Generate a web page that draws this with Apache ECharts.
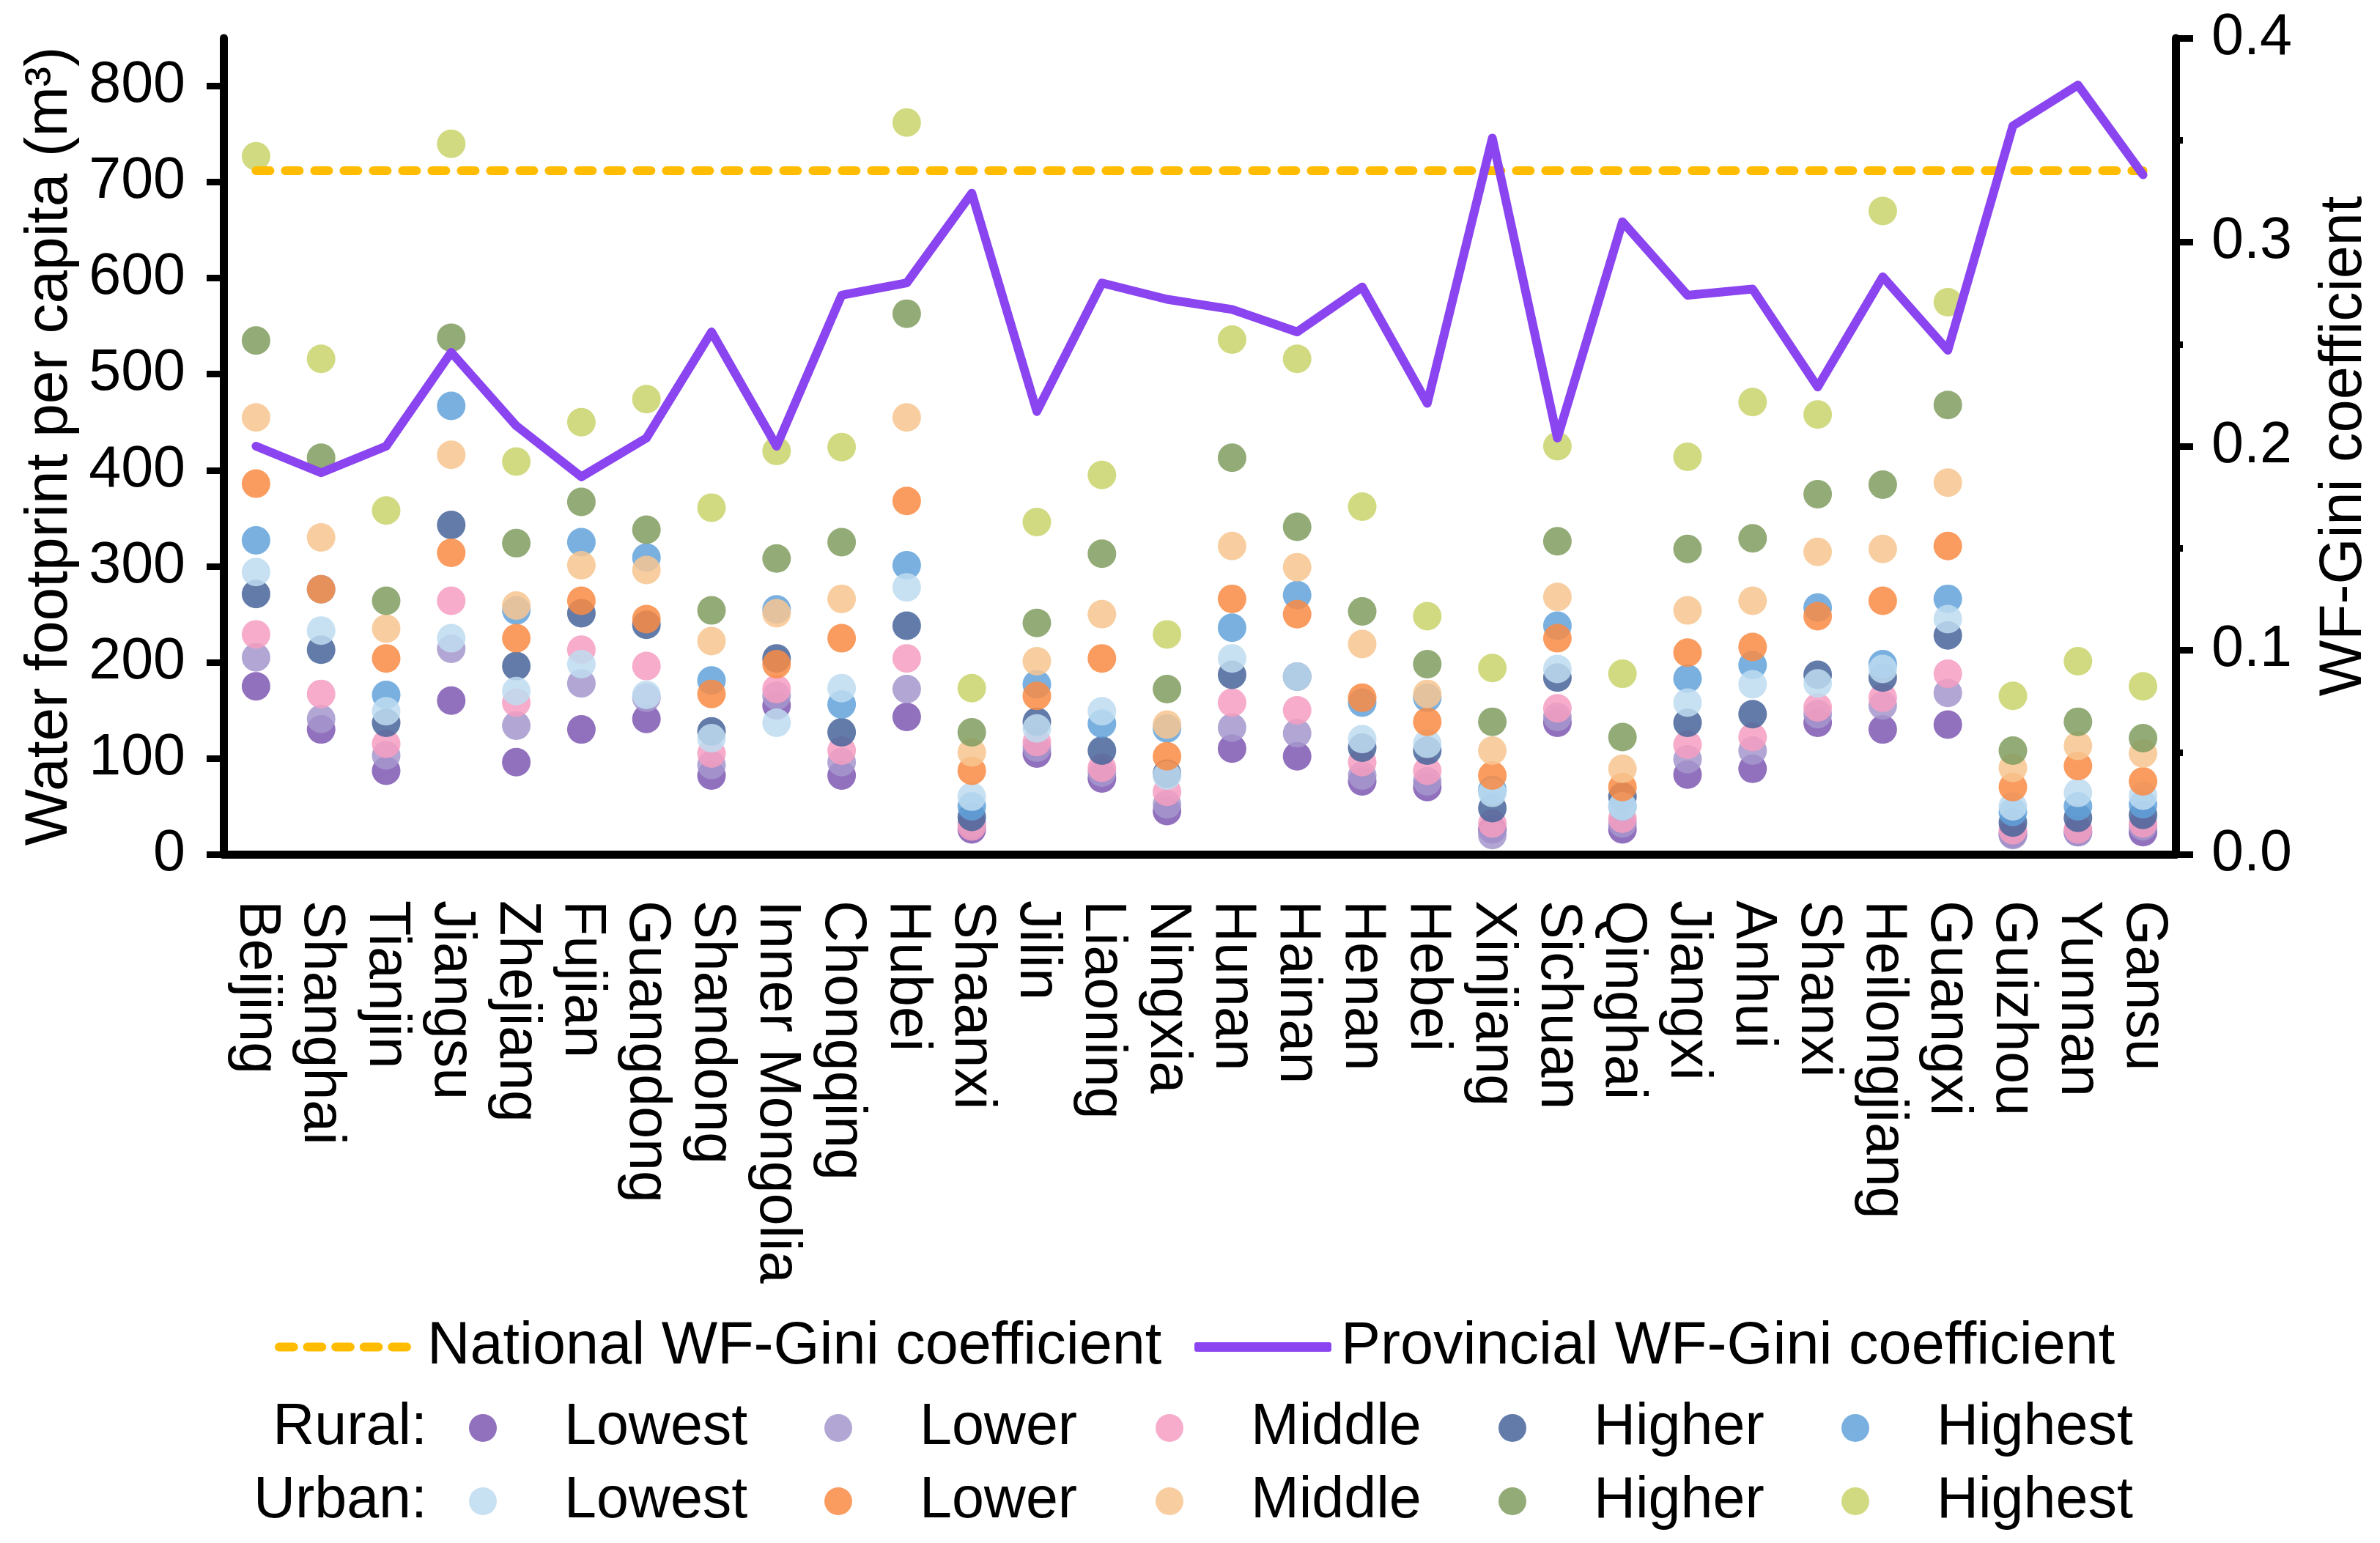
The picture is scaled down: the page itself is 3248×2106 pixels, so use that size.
<!DOCTYPE html>
<html><head><meta charset="utf-8">
<script src="https://cdn.jsdelivr.net/npm/echarts@6/dist/echarts.min.js"></script>
<style>html,body{margin:0;padding:0;background:#fff}#c{width:3248px;height:2106px}</style>
</head><body><div id="c"></div>
<script>
const provinces = ['Beijing','Shanghai','Tianjin','Jiangsu','Zhejiang','Fujian','Guangdong','Shandong','Inner Mongolia','Chongqing','Hubei','Shaanxi','Jilin','Liaoning','Ningxia','Hunan','Hainan','Henan','Hebei','Xinjiang','Sichuan','Qinghai','Jiangxi','Anhui','Shanxi','Heilongjiang','Guangxi','Guizhou','Yunnan','Gansu'];

const ruralLowest  = [175,130,87,160,96,130,141,82,155,82,143,26,105,79,45,110,102,76,70,26,137,26,83,89,137,130,135,21,23,23];
const ruralLower   = [205,141,103,214,134,178,163,93,165,96,172,32,111,85,52,132,126,82,76,20,143,32,99,108,146,155,168,20,23,29];
const ruralMiddle  = [229,167,115,264,158,213,196,105,172,108,204,29,117,90,65,158,150,96,87,32,152,37,114,122,153,163,188,25,26,32];
const ruralHigher  = [271,213,137,343,196,251,239,128,204,127,238,39,138,108,84,187,185,111,108,48,184,60,137,146,187,184,228,33,38,41];
const ruralHighest = [327,276,166,467,254,325,309,181,255,156,301,50,177,136,131,236,270,158,163,67,238,50,183,197,257,198,266,44,50,52];
const urbanLowest  = [294,233,149,225,170,198,166,121,137,173,278,60,131,149,82,204,185,120,115,64,193,50,158,177,178,193,245,50,64,61];
const urbanLower   = [386,276,204,314,225,264,245,167,198,225,368,87,165,204,102,266,250,163,138,82,225,70,210,216,248,264,321,70,92,76];
const urbanMiddle  = [455,330,235,416,259,301,296,222,251,266,455,106,201,250,135,321,299,219,167,108,268,89,254,264,315,318,387,90,113,105];
const urbanHigher  = [535,413,264,538,324,367,338,254,308,325,563,127,241,313,172,413,341,253,198,138,326,122,318,329,375,385,468,108,138,121];
const urbanHighest = [727,516,358,740,409,450,474,361,420,424,762,173,346,395,229,536,516,362,248,194,425,188,414,471,458,670,575,165,201,175];

const provincialGini = [0.200,0.187,0.200,0.246,0.210,0.185,0.204,0.256,0.200,0.274,0.280,0.324,0.217,0.280,0.272,0.267,0.256,0.278,0.221,0.351,0.204,0.310,0.274,0.277,0.229,0.283,0.247,0.357,0.377,0.333];
const nationalGini = [0.335,0.335,0.335,0.335,0.335,0.335,0.335,0.335,0.335,0.335,0.335,0.335,0.335,0.335,0.335,0.335,0.335,0.335,0.335,0.335,0.335,0.335,0.335,0.335,0.335,0.335,0.335,0.335,0.335,0.335];

const leftTicks = [0,100,200,300,400,500,600,700,800];
const groupLabels = ['Lowest','Lower','Middle','Higher','Highest'];

const FONT = '"Liberation Sans", Arial, sans-serif';
const FS = 79;

const scatterDefs = [
  ['Rural Lowest', ruralLowest, '#7E57B2'],
  ['Rural Lower', ruralLower, '#A497CC'],
  ['Rural Middle', ruralMiddle, '#F59DC1'],
  ['Rural Higher', ruralHigher, '#46649A'],
  ['Rural Highest', ruralHighest, '#62A2DA'],
  ['Urban Lowest', urbanLowest, '#BEDCF0'],
  ['Urban Lower', urbanLower, '#F98B44'],
  ['Urban Middle', urbanMiddle, '#F7C590'],
  ['Urban Higher', urbanHigher, '#809C5F'],
  ['Urban Highest', urbanHighest, '#C9D46B']
];

const series = scatterDefs.map(d => ({
  name: d[0], type: 'scatter', xAxisIndex: 0, yAxisIndex: 0,
  data: d[1], symbol: 'circle', symbolSize: 39,
  itemStyle: { color: d[2], opacity: 0.85 }, z: 2
}));
series.push({
  name: 'National WF-Gini coefficient', type: 'line', xAxisIndex: 0, yAxisIndex: 1,
  data: nationalGini, symbol: 'none', z: 5,
  lineStyle: { color: '#FFBC00', width: 12, type: [19, 21], cap: 'round' },
  itemStyle: { color: '#FFBC00' }
});
series.push({
  name: 'Provincial WF-Gini coefficient', type: 'line', xAxisIndex: 0, yAxisIndex: 1,
  data: provincialGini, symbol: 'none', z: 6,
  lineStyle: { color: '#8A45F0', width: 12, cap: 'round', join: 'round' },
  itemStyle: { color: '#8A45F0' }
});

const legends = [];
const colCenters = [659, 1144, 1596, 2064, 2532];
const rowCenters = [1949, 2049];
['Rural', 'Urban'].forEach((g, r) => {
  groupLabels.forEach((lab, c) => {
    legends.push({
      data: [g + ' ' + lab], orient: 'horizontal', selectedMode: false,
      left: colCenters[c] - 19, top: rowCenters[r] - 40, padding: 0,
      itemWidth: 38, itemHeight: 38, icon: 'circle',
      formatter: n => n.split(' ')[1],
      textStyle: { fontFamily: FONT, fontSize: FS, color: '#000', lineHeight: 80, padding: [0, 0, 0, 87] }
    });
  });
});
legends.push({
  data: [{ name: 'National WF-Gini coefficient',
    icon: 'path://M5,0h20a5,5 0 0 1 0,12h-20a5,5 0 0 1 0,-12z M44,0h20a5,5 0 0 1 0,12h-20a5,5 0 0 1 0,-12z M83,0h20a5,5 0 0 1 0,12h-20a5,5 0 0 1 0,-12z M122,0h20a5,5 0 0 1 0,12h-20a5,5 0 0 1 0,-12z M161,0h20a5,5 0 0 1 0,12h-20a5,5 0 0 1 0,-12z' }],
  selectedMode: false, padding: 0,
  left: 375, top: 1798, itemWidth: 186, itemHeight: 12,
  textStyle: { fontFamily: FONT, fontSize: FS + 2, color: '#000', lineHeight: 80, padding: [0, 0, 0, 17] }
});
legends.push({
  data: [{ name: 'Provincial WF-Gini coefficient', icon: 'roundRect' }],
  selectedMode: false, padding: 0,
  left: 1630, top: 1798, itemWidth: 187, itemHeight: 13,
  textStyle: { fontFamily: FONT, fontSize: FS + 2, color: '#000', lineHeight: 80, padding: [0, 0, 0, 8] }
});

const axisLine = { show: true, lineStyle: { color: '#000', width: 11 } };

const option = {
  animation: false,
  backgroundColor: '#fff',
  grid: { left: 305, right: 272, top: 52, bottom: 940 },
  legend: legends,
  graphic: [
    { type: 'text', right: 3248 - 583, top: rowCenters[0] - 40,
      style: { text: 'Rural:', fontFamily: FONT, fontSize: FS, fill: '#000', lineHeight: 80 } },
    { type: 'text', right: 3248 - 583, top: rowCenters[1] - 40,
      style: { text: 'Urban:', fontFamily: FONT, fontSize: FS, fill: '#000', lineHeight: 80 } }
  ],
  xAxis: [
    {
      type: 'category', data: provinces, boundaryGap: true, position: 'bottom',
      axisLine: axisLine, axisTick: { show: false },
      axisLabel: { rotate: -90, interval: 0, margin: 63, fontFamily: FONT, fontSize: FS, color: '#000' },
      splitLine: { show: false }
    },
    {
      type: 'category', data: provinces, boundaryGap: true, position: 'top',
      axisLine: axisLine, axisTick: { show: false }, axisLabel: { show: false }, splitLine: { show: false }
    }
  ],
  yAxis: [
    {
      type: 'value', position: 'left', min: 0, max: 850,
      name: 'Water footprint per capita (m³)', nameLocation: 'middle', nameGap: 196,
      nameTextStyle: { fontFamily: FONT, fontSize: 82, color: '#000' },
      axisLine: axisLine,
      axisTick: { show: true, length: 23, lineStyle: { color: '#000', width: 9 }, customValues: leftTicks },
      axisLabel: { margin: 52, fontFamily: FONT, fontSize: FS, color: '#000', customValues: leftTicks },
      splitLine: { show: false }
    },
    {
      type: 'value', position: 'right', min: 0, max: 0.4, interval: 0.1,
      name: 'WF-Gini coefficient', nameLocation: 'middle', nameGap: 190,
      nameTextStyle: { fontFamily: FONT, fontSize: 81, color: '#000' },
      axisLine: axisLine,
      axisTick: { show: true, length: 24, lineStyle: { color: '#000', width: 9 } },
      minorTick: { show: true, splitNumber: 2, length: 10, lineStyle: { color: '#000', width: 9 } },
      axisLabel: { margin: 49, fontFamily: FONT, fontSize: FS, color: '#000', formatter: v => v.toFixed(1) },
      splitLine: { show: false }
    }
  ],
  series: series
};

const chart = echarts.init(document.getElementById('c'));
chart.setOption(option);
</script>
</body></html>
